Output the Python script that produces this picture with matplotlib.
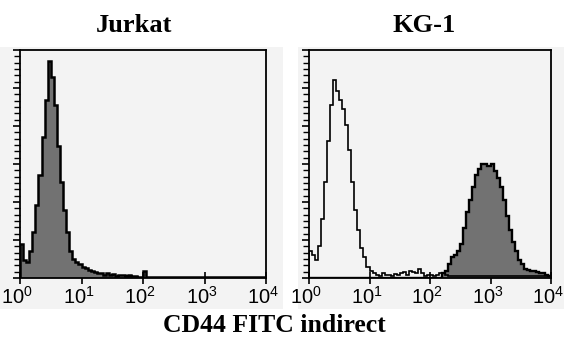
import numpy as np
import matplotlib
matplotlib.use('Agg')
import matplotlib.pyplot as plt
import matplotlib.transforms as mtransforms
from matplotlib.ticker import FixedLocator, FuncFormatter, LogLocator, NullFormatter
from matplotlib.patches import Rectangle

plt.rcParams['font.family'] = ['Liberation Sans', 'DejaVu Sans']
plt.rcParams['mathtext.fontset'] = 'custom'
plt.rcParams['mathtext.rm'] = 'Liberation Sans'
plt.rcParams['mathtext.default'] = 'regular'

# log10 bin edges, 0.05 decade per bin, 10^0 .. 10^4
edges_log = np.linspace(0, 4, 81)

titles = ['Jurkat', 'KG-1']
xlabel = 'CD44 FITC indirect'

# Jurkat, filled histogram (fraction of axis height)
jurkat = [0.15, 0.08, 0.07, 0.12, 0.20, 0.32, 0.45, 0.62, 0.78, 0.95,
          0.88, 0.76, 0.58, 0.42, 0.30, 0.20, 0.12, 0.085, 0.07, 0.06,
          0.05, 0.045, 0.035, 0.03, 0.025, 0.02, 0.02, 0.015, 0.02, 0.012,
          0.018, 0.01, 0.015, 0.012, 0.01, 0.015, 0.008, 0.01, 0.006, 0.005,
          0.03, 0.005, 0.004, 0.003, 0.003, 0.004, 0.003, 0.003, 0.003, 0.003,
          0.003, 0.003, 0.003, 0.003, 0.003, 0.003, 0.003, 0.003, 0.003, 0.003,
          0.003, 0.003, 0.003, 0.003, 0.003, 0.003, 0.003, 0.003, 0.003, 0.003,
          0.003, 0.003, 0.003, 0.003, 0.003, 0.003, 0.003, 0.003, 0.003, 0.003]

# KG-1, control (open) histogram
kg1_ctrl = [0.12, 0.10, 0.08, 0.14, 0.26, 0.42, 0.60, 0.76, 0.87, 0.82,
            0.78, 0.74, 0.67, 0.56, 0.42, 0.30, 0.21, 0.13, 0.09, 0.05,
            0.03, 0.02, 0.015, 0.01, 0.02, 0.012, 0.015, 0.01, 0.018, 0.012,
            0.02, 0.025, 0.015, 0.03, 0.025, 0.02, 0.04, 0.02, 0.01, 0.012,
            0.015, 0.01, 0.015, 0.02, 0.02, 0.015, 0.01, 0.01, 0.01, 0.01,
            0.01, 0.01, 0.01, 0.01, 0.01, 0.01, 0.01, 0.01, 0.01, 0.01,
            0.01, 0.01, 0.01, 0.01, 0.01, 0.01, 0.01, 0.01, 0.01, 0.01,
            0.01, 0.01, 0.01, 0.01, 0.01, 0.01, 0.01, 0.01, 0.01, 0.01]

# KG-1, CD44 stained (filled) histogram
kg1_cd44 = [0, 0, 0, 0, 0, 0, 0, 0, 0, 0,
            0, 0, 0, 0, 0, 0, 0, 0, 0, 0,
            0, 0, 0, 0, 0, 0, 0, 0, 0, 0,
            0, 0, 0, 0, 0, 0, 0, 0, 0, 0,
            0, 0, 0, 0, 0.02, 0.03, 0.06, 0.09, 0.10, 0.12,
            0.15, 0.22, 0.29, 0.34, 0.40, 0.45, 0.48, 0.50, 0.50, 0.49,
            0.50, 0.47, 0.44, 0.40, 0.34, 0.27, 0.21, 0.16, 0.12, 0.08,
            0.06, 0.04, 0.035, 0.03, 0.03, 0.025, 0.02, 0.02, 0.015, 0.01]

edges = 10 ** edges_log
bg = '#f3f3f3'
fill_c = '#727272'

fig = plt.figure(figsize=(5.64, 3.38), dpi=100)
fig.patch.set_facecolor('white')
# grey scanned panels behind each plot
fig.patches.append(Rectangle((0, 29/338), 283/564, 262/338, transform=fig.transFigure,
                             facecolor=bg, edgecolor='none', zorder=-5))
fig.patches.append(Rectangle((298/564, 29/338), 266/564, 262/338, transform=fig.transFigure,
                             facecolor=bg, edgecolor='none', zorder=-5))

ax1 = fig.add_axes([20/564, 60/338, 246/564, 228/338])
ax2 = fig.add_axes([309/564, 60/338, 242/564, 228/338])

ax1.stairs(jurkat, edges, fill=True, color=fill_c, zorder=2)
ax1.stairs(jurkat, edges, color='k', lw=1.8, zorder=3)

ax2.stairs(kg1_cd44, edges, fill=True, color=fill_c, zorder=2)
ax2.stairs(kg1_cd44, edges, color='k', lw=1.7, zorder=3)
ax2.stairs(kg1_ctrl, edges, color='k', lw=1.2, zorder=4)

fmt = FuncFormatter(lambda v, p: '$10^{%d}$' % round(np.log10(v)))
shift = mtransforms.ScaledTranslation(-3/100, 0, fig.dpi_scale_trans)
for ax in [ax1, ax2]:
    ax.set_facecolor(bg)
    ax.set_xscale('log')
    ax.set_xlim(1, 1e4)
    ax.set_ylim(0, 1)
    for s in ax.spines.values():
        s.set_linewidth(1.3)
    ax.xaxis.set_major_locator(FixedLocator([1, 10, 100, 1000, 10000]))
    ax.xaxis.set_minor_locator(LogLocator(base=10, subs=np.arange(2, 10)))
    ax.xaxis.set_major_formatter(fmt)
    ax.xaxis.set_minor_formatter(NullFormatter())
    ax.tick_params(axis='x', which='major', direction='inout', length=8, width=1.2,
                   labelsize=14.5, pad=2)
    ax.tick_params(axis='x', which='minor', direction='out', length=3, width=1.1)
    ax.yaxis.set_major_locator(FixedLocator(np.linspace(0, 1, 7)))
    ax.yaxis.set_minor_locator(FixedLocator(np.linspace(0, 1, 37)))
    ax.tick_params(axis='y', which='major', direction='out', length=5, width=1.2, labelleft=False)
    ax.tick_params(axis='y', which='minor', direction='out', length=4, width=1.0)
    for lab in ax.get_xticklabels():
        lab.set_transform(lab.get_transform() + shift)

fig.text(134/564, 1 - 32/338, titles[0], ha='center', va='baseline', fontsize=19,
         fontweight='bold', family='Liberation Serif')
fig.text(424/564, 1 - 32/338, titles[1], ha='center', va='baseline', fontsize=19,
         fontweight='bold', family='Liberation Serif')
fig.text(274/564, 1 - 332/338, xlabel, ha='center', va='baseline', fontsize=18.5,
         fontweight='bold', family='Liberation Serif')

fig.savefig('out.png', dpi=100)
